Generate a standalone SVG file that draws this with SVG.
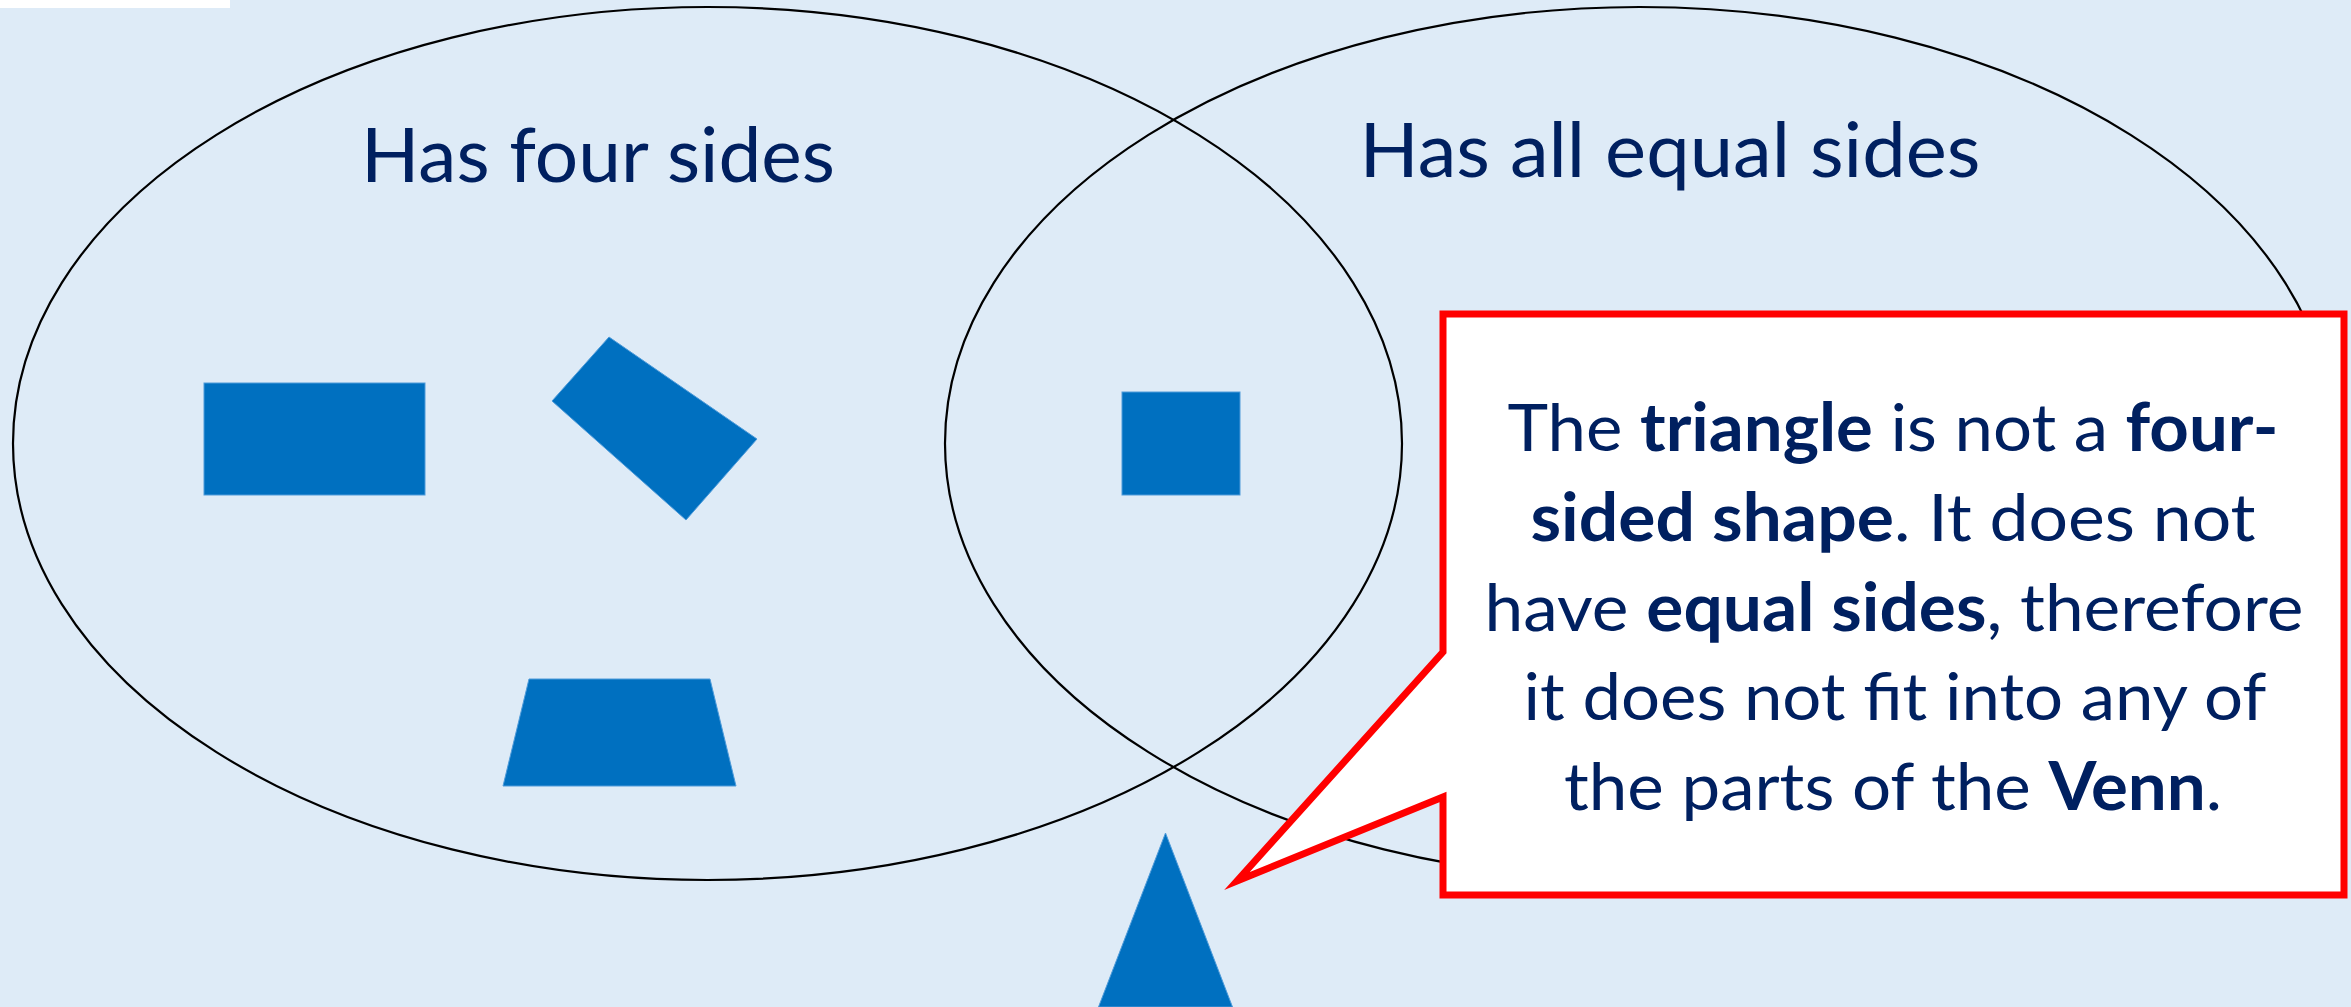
<svg xmlns="http://www.w3.org/2000/svg" width="2351" height="1007" viewBox="0 0 2351 1007">
  <style>
    .set { fill: none; stroke: #000000; stroke-width: 2.2; }
    .shape { fill: #0070C0; stroke: #4E9BDA; stroke-width: 1; }
    .title { font-family: Lato, "Open Sans", "Liberation Sans", sans-serif; font-size: 75px; fill: #002060; text-anchor: middle; }
    .body { font-family: Lato, "Open Sans", "Liberation Sans", sans-serif; font-size: 66px; fill: #002060; text-anchor: middle; }
    .b { font-weight: bold; }
    .callout { fill: #FFFFFF; stroke: #FF0000; stroke-width: 7; stroke-miterlimit: 10; stroke-linejoin: miter; }
  </style>
  <rect x="0" y="0" width="2351" height="1007" fill="#DEEBF7"/>
  <rect x="0" y="0" width="230" height="8" fill="#FFFFFF"/>

  <g id="set-four-sides">
    <ellipse class="set" cx="707.5" cy="443.5" rx="694.5" ry="436.5"/>
    <text class="title" x="598" y="182" textLength="474" lengthAdjust="spacingAndGlyphs">Has four sides</text>
  </g>
  <g id="set-equal-sides">
    <ellipse class="set" cx="1639.5" cy="443.5" rx="694.5" ry="436.5"/>
    <text class="title" x="1670" y="177" textLength="621" lengthAdjust="spacingAndGlyphs">Has all equal sides</text>
  </g>

  <g id="rectangle">
    <rect class="shape" x="204" y="383" width="221" height="112"/>
  </g>
  <g id="rotated-rectangle">
    <polygon class="shape" points="609,337 757,439 686,520 552,401"/>
  </g>
  <g id="trapezoid">
    <polygon class="shape" points="529,679 710,679 736,786 503,786"/>
  </g>
  <g id="square">
    <rect class="shape" x="1122" y="392" width="118" height="103"/>
  </g>
  <g id="triangle">
    <polygon class="shape" points="1165.5,833 1232.5,1007 1098.5,1007"/>
  </g>

  <g id="callout">
    <path class="callout" d="M1443,314 H2344 V895 H1443 V797 L1237,881 L1443,652 Z"/>
    <text class="body" x="1893" y="451" textLength="771" lengthAdjust="spacingAndGlyphs">The <tspan class="b">triangle</tspan> is not a <tspan class="b">four-</tspan></text>
    <text class="body" x="1893" y="541" textLength="725" lengthAdjust="spacingAndGlyphs"><tspan class="b">sided shape</tspan>. It does not</text>
    <text class="body" x="1894" y="631" textLength="819" lengthAdjust="spacingAndGlyphs">have <tspan class="b">equal sides</tspan>, therefore</text>
    <text class="body" x="1895" y="720" textLength="743" lengthAdjust="spacingAndGlyphs">it does not fit into any of</text>
    <text class="body" x="1893" y="810" textLength="658" lengthAdjust="spacingAndGlyphs">the parts of the <tspan class="b">Venn</tspan>.</text>
  </g>
</svg>
